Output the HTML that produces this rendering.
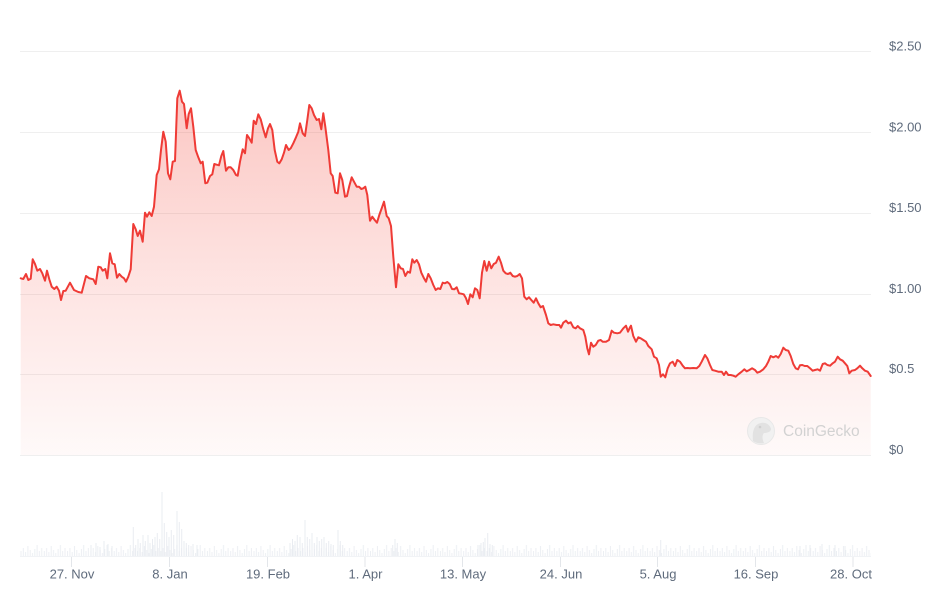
<!DOCTYPE html>
<html>
<head>
<meta charset="utf-8">
<style>
html,body{margin:0;padding:0;background:#ffffff;}
svg{display:block;}
text{font-family:"Liberation Sans",Arial,sans-serif;}
</style>
</head>
<body>
<svg width="947" height="592" viewBox="0 0 947 592" xmlns="http://www.w3.org/2000/svg">
<defs>
<linearGradient id="fillg" gradientUnits="userSpaceOnUse" x1="0" y1="90" x2="0" y2="455">
<stop offset="0" stop-color="#f44336" stop-opacity="0.30"/>
<stop offset="0.5" stop-color="#f44336" stop-opacity="0.15"/>
<stop offset="1" stop-color="#f44336" stop-opacity="0.03"/>
</linearGradient>
<pattern id="vol" patternUnits="userSpaceOnUse" x="20" y="537" width="23.3" height="20">
<path d="M1 20v-6M3.3 20v-9M5.6 20v-5M7.9 20v-11M10.2 20v-7M12.5 20v-4M14.8 20v-8M17.1 20v-12M19.4 20v-6M21.7 20v-9" stroke="#eceff3" stroke-width="1" fill="none"/>
</pattern>
</defs>

<!-- gridlines -->
<g stroke="#efefef" stroke-width="1">
<line x1="20" y1="51.5" x2="871" y2="51.5"/>
<line x1="20" y1="132.5" x2="871" y2="132.5"/>
<line x1="20" y1="213.5" x2="871" y2="213.5"/>
<line x1="20" y1="294.5" x2="871" y2="294.5"/>
<line x1="20" y1="374.5" x2="871" y2="374.5"/>
<line x1="20" y1="455.5" x2="871" y2="455.5"/>
</g>

<!-- y labels -->
<g fill="#5f6b7c" font-size="13">
<text x="889" y="50.5">$2.50</text>
<text x="889" y="131.5">$2.00</text>
<text x="889" y="212">$1.50</text>
<text x="889" y="293">$1.00</text>
<text x="889" y="373">$0.5</text>
<text x="889" y="454">$0</text>
</g>

<!-- area fill -->
<path fill="url(#fillg)" stroke="none" d="M20.7,455 L20.7,278.3 23.3,279 26,274 28.3,280 30.7,278.7 32.7,259.3 35,264 37.3,270.7 40,269 42.3,273.3 45,280.7 47,270.7 49.3,279.3 51.7,286.7 54.3,289 56.7,286.7 59,290.7 61,300 63.3,291 65.7,290.7 70,282.7 74,290 78.3,292 81.7,292.7 86,276 89.3,278.3 93.3,279.3 95.7,284 98.3,266.7 100.7,267.3 102.7,270.7 105.3,269 107.3,278.3 110,253.3 112.3,263.3 114.7,264.3 117,277.7 119.3,274 121.7,276.7 124,278.3 126,281.7 128.3,276.7 130.7,269.3 133.3,224 135.7,229.3 137.7,236 140,230.7 142.7,241.7 145,212.7 147,216.7 149.3,212.3 151.7,216 154,206.7 156.7,175 159,169.3 161,150 163.3,131.7 165.7,141.7 168,173.3 170.3,179.3 172.7,161.7 175,161 177.3,98.3 179.7,90.7 182,101.7 184,104 186.7,128.3 188.7,114 191,108.3 193.3,126.7 195.7,150 198.3,157.3 200.7,163.3 202.7,161.7 205.3,183.3 207.3,182.7 210,176 212.3,174.3 214.3,164 216.7,164.7 219,165.3 221.3,156 223.3,151 226,170.7 228.3,167.3 230.7,167.3 233.3,170 236,175 237.7,175.7 240,161.7 242.7,149.3 245,153.3 247,135 249.3,138.3 251.7,142.7 253.7,120.7 256,124 258.3,114.3 260.7,119.3 263.3,129.3 265.7,137.3 268,128.3 270,124 272.3,130 274.7,150 277.3,161.7 279.3,163.3 281.7,159.3 284,152.7 286,145 288.7,150 290.7,148.3 293.3,143.3 296,137.3 298.3,131.7 300,123.3 302.7,133.3 305,136 307.3,120 309.3,105 311.7,108.3 314,115 316.7,120 319,119 321.3,129.3 323.3,113.3 325.3,126.7 328.3,150 330.7,173.3 332.7,176 335.3,192.7 337.7,193.3 340,173.3 342.3,180 345,196.7 347,196 349.3,186 351.7,177.3 354,181.7 356.7,186.7 359,186.7 361.3,189 363.3,188.3 365.3,186.7 367.3,195 370,220.7 372.3,216.7 374.7,220 377,222.7 379.3,215 381.7,208.3 384,201.7 386.7,216 388.7,218.3 391,226 393.3,256.7 396,287.3 398.3,264.3 400.7,268.3 403,269 405.3,276 407.7,271.7 410,272.7 412.3,259.3 414.3,262.7 416.7,260 419,264.3 421.3,272.7 423.7,277.7 426,281.7 428.3,274 430.7,278.3 433.3,285 435.7,290 438,288.3 440.3,289 442.7,282.7 445,283.3 447.3,282 449.7,284 452,289 454.3,289.3 456.7,287.3 459,293.3 461.3,293.7 463.7,294.3 466,298.3 468,304 470.3,294.3 472.7,297.3 475,288.3 477.3,290 479.7,298.3 482,272.7 484.3,261 486.7,270.7 489,261.7 491.3,268.3 493.7,264 496,262.7 498.7,256.7 501,262.7 503.3,270.7 505.7,273.3 508,274 510.3,272.7 512.7,276 515,276.7 517.3,276 519.7,274 522,278.3 524.3,296.7 526.7,299.3 529,297.3 531.3,300 533.7,302.7 536,298.3 538.3,303.3 540.7,307.3 543,306 546,315 548.3,323.3 550.7,325 553.3,324.3 556.7,325 559.3,325 561,327.7 563.3,322.7 566,320.7 568.3,323.3 570.7,322.3 573.3,327.3 575.7,328.3 577.7,326 580,328.3 583.3,330 585.3,336.7 587.3,348.3 589,354.3 591,342.7 593.3,346.7 595.7,345 598.3,340.7 600.7,340 602.7,341.7 606,341.7 609,340 611.7,330.7 614,332.7 617.3,333.3 620,332.7 623.3,328.3 626,325.7 628,331.7 630,327.3 631,325.7 633.3,336 636,341.7 638.3,337.3 640.7,338.3 643.3,340 646,341.7 648.3,346 651.7,349.3 654,356.7 656.7,358.3 659,365 660.7,376.7 663,374.3 665.3,377.3 667.7,368.3 670,363.3 672.7,361.7 675,366 677.3,360 680,361.7 682.7,365.7 685,368.3 687.3,368 690,368.3 693.3,368 696.7,368.3 699.3,366 701.7,361.7 705,355 707.3,358.3 710,365 712.3,370 715,370.7 718.3,371.7 721.7,371.7 724,375 726,371.7 728.3,375 730.7,375 733.3,375.7 735.7,376.7 738.3,374.3 741.7,371.7 744.3,369.3 746.7,371.3 749.3,370 752,368.3 755,370 757.3,372.7 760,371.7 763.3,369.3 766,366 768.3,361.7 770.7,356 773.3,357.3 776,356 778.3,357.7 780.7,354 783.3,347.7 785.7,350 788.3,350.7 790.7,356 793.3,364 795.7,368.3 798,369.3 800,365.3 802.3,365 804.7,366 807.3,366 810,368.3 812.7,370.7 815,370 817.7,369.3 820,370.7 822.7,364 825,363.3 827.3,365 830,365.7 832.7,363.3 835,361.7 837.7,356.7 840,359.3 842.7,360.7 845,363.3 847.3,366 849.3,373.3 851.7,370.7 855,370 857.3,368.3 860,365.7 862.3,368.3 865,370.7 867.7,371.7 870.7,376 L870.7,455 Z"/>

<!-- CoinGecko watermark -->
<g>
<circle cx="761" cy="431" r="13.5" fill="#f1f1f1" stroke="#e8e8e8" stroke-width="1"/>
<path d="M753,441 C752,432 754,424 761,423 C766,422 770,425 771,429 C771,432 767,433 764,433 C762,435 762,439 764,443 C760,444 756,443 753,441 Z" fill="#e2e2e2"/>
<circle cx="760" cy="427" r="1.3" fill="#d0d0d0"/>
<text x="783" y="436" font-size="15.5" fill="#d2d2d2">CoinGecko</text>
</g>

<!-- price line -->
<polyline fill="none" stroke="#ef3b36" stroke-width="2" stroke-linejoin="round" stroke-linecap="round" points="20.7,278.3 23.3,279 26,274 28.3,280 30.7,278.7 32.7,259.3 35,264 37.3,270.7 40,269 42.3,273.3 45,280.7 47,270.7 49.3,279.3 51.7,286.7 54.3,289 56.7,286.7 59,290.7 61,300 63.3,291 65.7,290.7 70,282.7 74,290 78.3,292 81.7,292.7 86,276 89.3,278.3 93.3,279.3 95.7,284 98.3,266.7 100.7,267.3 102.7,270.7 105.3,269 107.3,278.3 110,253.3 112.3,263.3 114.7,264.3 117,277.7 119.3,274 121.7,276.7 124,278.3 126,281.7 128.3,276.7 130.7,269.3 133.3,224 135.7,229.3 137.7,236 140,230.7 142.7,241.7 145,212.7 147,216.7 149.3,212.3 151.7,216 154,206.7 156.7,175 159,169.3 161,150 163.3,131.7 165.7,141.7 168,173.3 170.3,179.3 172.7,161.7 175,161 177.3,98.3 179.7,90.7 182,101.7 184,104 186.7,128.3 188.7,114 191,108.3 193.3,126.7 195.7,150 198.3,157.3 200.7,163.3 202.7,161.7 205.3,183.3 207.3,182.7 210,176 212.3,174.3 214.3,164 216.7,164.7 219,165.3 221.3,156 223.3,151 226,170.7 228.3,167.3 230.7,167.3 233.3,170 236,175 237.7,175.7 240,161.7 242.7,149.3 245,153.3 247,135 249.3,138.3 251.7,142.7 253.7,120.7 256,124 258.3,114.3 260.7,119.3 263.3,129.3 265.7,137.3 268,128.3 270,124 272.3,130 274.7,150 277.3,161.7 279.3,163.3 281.7,159.3 284,152.7 286,145 288.7,150 290.7,148.3 293.3,143.3 296,137.3 298.3,131.7 300,123.3 302.7,133.3 305,136 307.3,120 309.3,105 311.7,108.3 314,115 316.7,120 319,119 321.3,129.3 323.3,113.3 325.3,126.7 328.3,150 330.7,173.3 332.7,176 335.3,192.7 337.7,193.3 340,173.3 342.3,180 345,196.7 347,196 349.3,186 351.7,177.3 354,181.7 356.7,186.7 359,186.7 361.3,189 363.3,188.3 365.3,186.7 367.3,195 370,220.7 372.3,216.7 374.7,220 377,222.7 379.3,215 381.7,208.3 384,201.7 386.7,216 388.7,218.3 391,226 393.3,256.7 396,287.3 398.3,264.3 400.7,268.3 403,269 405.3,276 407.7,271.7 410,272.7 412.3,259.3 414.3,262.7 416.7,260 419,264.3 421.3,272.7 423.7,277.7 426,281.7 428.3,274 430.7,278.3 433.3,285 435.7,290 438,288.3 440.3,289 442.7,282.7 445,283.3 447.3,282 449.7,284 452,289 454.3,289.3 456.7,287.3 459,293.3 461.3,293.7 463.7,294.3 466,298.3 468,304 470.3,294.3 472.7,297.3 475,288.3 477.3,290 479.7,298.3 482,272.7 484.3,261 486.7,270.7 489,261.7 491.3,268.3 493.7,264 496,262.7 498.7,256.7 501,262.7 503.3,270.7 505.7,273.3 508,274 510.3,272.7 512.7,276 515,276.7 517.3,276 519.7,274 522,278.3 524.3,296.7 526.7,299.3 529,297.3 531.3,300 533.7,302.7 536,298.3 538.3,303.3 540.7,307.3 543,306 546,315 548.3,323.3 550.7,325 553.3,324.3 556.7,325 559.3,325 561,327.7 563.3,322.7 566,320.7 568.3,323.3 570.7,322.3 573.3,327.3 575.7,328.3 577.7,326 580,328.3 583.3,330 585.3,336.7 587.3,348.3 589,354.3 591,342.7 593.3,346.7 595.7,345 598.3,340.7 600.7,340 602.7,341.7 606,341.7 609,340 611.7,330.7 614,332.7 617.3,333.3 620,332.7 623.3,328.3 626,325.7 628,331.7 630,327.3 631,325.7 633.3,336 636,341.7 638.3,337.3 640.7,338.3 643.3,340 646,341.7 648.3,346 651.7,349.3 654,356.7 656.7,358.3 659,365 660.7,376.7 663,374.3 665.3,377.3 667.7,368.3 670,363.3 672.7,361.7 675,366 677.3,360 680,361.7 682.7,365.7 685,368.3 687.3,368 690,368.3 693.3,368 696.7,368.3 699.3,366 701.7,361.7 705,355 707.3,358.3 710,365 712.3,370 715,370.7 718.3,371.7 721.7,371.7 724,375 726,371.7 728.3,375 730.7,375 733.3,375.7 735.7,376.7 738.3,374.3 741.7,371.7 744.3,369.3 746.7,371.3 749.3,370 752,368.3 755,370 757.3,372.7 760,371.7 763.3,369.3 766,366 768.3,361.7 770.7,356 773.3,357.3 776,356 778.3,357.7 780.7,354 783.3,347.7 785.7,350 788.3,350.7 790.7,356 793.3,364 795.7,368.3 798,369.3 800,365.3 802.3,365 804.7,366 807.3,366 810,368.3 812.7,370.7 815,370 817.7,369.3 820,370.7 822.7,364 825,363.3 827.3,365 830,365.7 832.7,363.3 835,361.7 837.7,356.7 840,359.3 842.7,360.7 845,363.3 847.3,366 849.3,373.3 851.7,370.7 855,370 857.3,368.3 860,365.7 862.3,368.3 865,370.7 867.7,371.7 870.7,376"/>

<!-- volume -->
<rect x="20" y="537" width="851" height="20" fill="url(#vol)"/>
<path stroke="#e9ecf1" stroke-width="1" fill="none" d="M91 557v-12M96 557v-14M100 557v-10M104 557v-16M108 557v-13M112 557v-11M133.3 557v-30M135.7 557v-12M138 557v-18M140.3 557v-14M143 557v-22M145.3 557v-16M148 557v-22M150 557v-14M152.5 557v-18M155 557v-20M157.3 557v-24M159.7 557v-18M162 557v-65M164.3 557v-34M166.7 557v-25M169 557v-20M171.3 557v-27M173.7 557v-22M177 557v-46M179.3 557v-35M181.7 557v-28M184 557v-16M186.3 557v-14M188.7 557v-12M193 557v-13M197 557v-12M290 557v-14M292.5 557v-18M295 557v-16M297.3 557v-22M300 557v-20M302.3 557v-14M305 557v-37M307.3 557v-20M309.7 557v-18M312 557v-24M314.3 557v-14M317 557v-20M319.3 557v-16M321.7 557v-18M324 557v-20M326.3 557v-14M328.7 557v-16M331 557v-13M333.3 557v-12M338 557v-27M340.3 557v-16M342.7 557v-12M392.7 557v-12M395 557v-18M397.3 557v-14M478 557v-12M481 557v-14M483.3 557v-15M485 557v-19M487.7 557v-24M490 557v-13M492.3 557v-12M660.7 557v-17M800 557v-11M810 557v-12M822 557v-13M835 557v-12M845 557v-11"/>
<line x1="20" y1="556.5" x2="871" y2="556.5" stroke="#f1f3f6" stroke-width="1"/>

<!-- x ticks -->
<g stroke="#e3e6ea" stroke-width="1">
<line x1="71.5" y1="557" x2="71.5" y2="567"/>
<line x1="169.5" y1="557" x2="169.5" y2="567"/>
<line x1="267.5" y1="557" x2="267.5" y2="567"/>
<line x1="365" y1="557" x2="365" y2="567"/>
<line x1="462.5" y1="557" x2="462.5" y2="567"/>
<line x1="560.5" y1="557" x2="560.5" y2="567"/>
<line x1="657.5" y1="557" x2="657.5" y2="567"/>
<line x1="755.5" y1="557" x2="755.5" y2="567"/>
<line x1="853" y1="557" x2="853" y2="567"/>
</g>

<!-- x labels -->
<g fill="#5f6b7c" font-size="13" text-anchor="middle">
<text x="72" y="578.5">27. Nov</text>
<text x="170" y="578.5">8. Jan</text>
<text x="268" y="578.5">19. Feb</text>
<text x="365.5" y="578.5">1. Apr</text>
<text x="463" y="578.5">13. May</text>
<text x="561" y="578.5">24. Jun</text>
<text x="658" y="578.5">5. Aug</text>
<text x="756" y="578.5">16. Sep</text>
<text x="851" y="578.5">28. Oct</text>
</g>
</svg>
</body>
</html>
